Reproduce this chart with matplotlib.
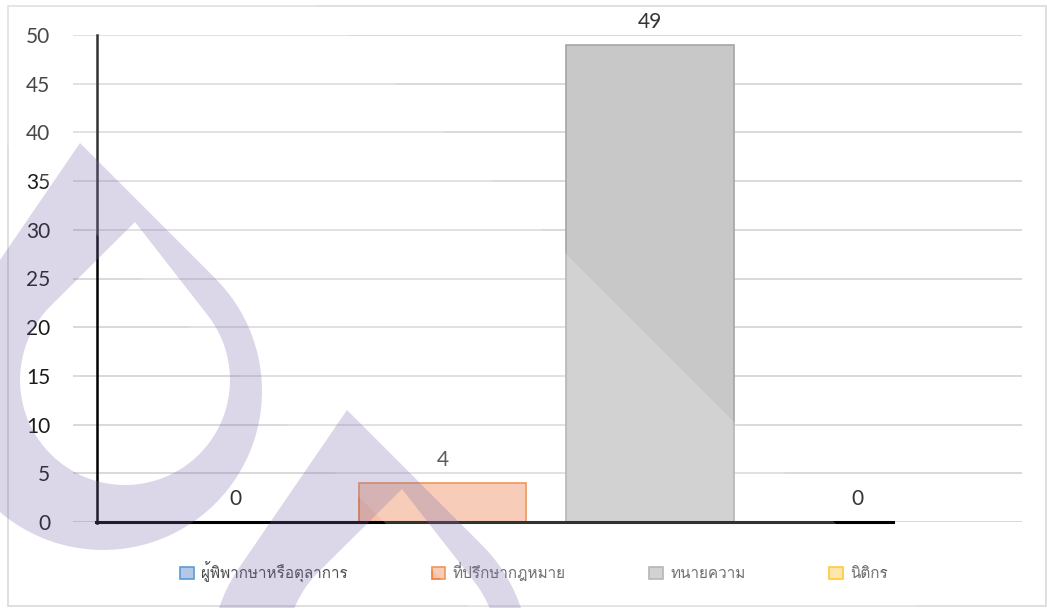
import numpy as np
import matplotlib
matplotlib.use('Agg')
import matplotlib.pyplot as plt
from matplotlib import font_manager
from matplotlib.ft2font import FT2Font
from matplotlib.font_manager import FontProperties
from matplotlib.patches import Patch, PathPatch, Rectangle, Polygon
from matplotlib.path import Path
from matplotlib.lines import Line2D

series = ['ผู้พิพากษาหรือตุลาการ', 'ที่ปรึกษากฎหมาย', 'ทนายความ', 'นิติกร']
values = [0, 4, 49, 0]
face_colors = ['#b4c7e7', '#f6c1a8', '#c8c8c8', '#ffe09a']
edge_colors = ['#5b9bd5', '#ed7d31', '#a5a5a5', '#ffc000']
y_ticks = [0, 5, 10, 15, 20, 25, 30, 35, 40, 45, 50]

W, H = 1047, 608


def thai_family():
    # first installed font that actually carries Thai glyphs
    for f in font_manager.fontManager.ttflist:
        try:
            if 0x0E01 in FT2Font(f.fname).get_charmap():
                return f.name
        except Exception:
            pass
    return 'DejaVu Sans'


THAI = thai_family()
NUM = 'Lato'


def px(x, y):
    return (x / W, 1 - y / H)


def drop(tip, center, r, n=80):
    tx, ty = tip
    cx, cy = center
    d = np.hypot(cx - tx, cy - ty)
    a = np.arcsin(r / d)
    phi = np.arctan2(cy - ty, cx - tx)
    th = np.linspace(np.pi / 2 + a, -(np.pi / 2 + a), n) + phi
    pts = [(tx, ty)] + list(zip(cx + r * np.cos(th), cy + r * np.sin(th)))
    return np.array(pts)


fig = plt.figure(figsize=(W / 100, H / 100), dpi=100)
ax = fig.add_axes([73 / W, 1 - 522 / H, (1022 - 73) / W, (522 - 35) / H])

x = np.arange(len(values))
lw = [1.2 if v else 0 for v in values]
ax.bar(x, values, width=0.807, color=face_colors, edgecolor=edge_colors,
       linewidth=lw, zorder=3)
for xi, v in zip(x, values):
    ax.annotate(str(v), (xi, v), xytext=(0, 16.5), textcoords='offset points',
                ha='center', va='center', fontsize=15, family=NUM,
                color='#333333', zorder=4)

ax.set_xlim(-0.787, 3.797)
ax.set_ylim(0, 50)
ax.set_yticks(y_ticks)
ax.set_xticks([])
ax.yaxis.grid(True, color='#d9d9d9', linewidth=1.4, zorder=0)
ax.set_axisbelow(True)
for s in ax.spines.values():
    s.set_visible(False)
ax.tick_params(axis='y', length=0, pad=16.5, labelsize=15, labelcolor='#1a1a1a')
for t in ax.get_yticklabels():
    t.set_family(NUM)

# hand drawn axis strokes
fig.add_artist(Line2D([97 / W, 97 / W], [1 - 35 / H, 1 - 523 / H],
                      color='black', linewidth=1.8, zorder=5))
fig.add_artist(Line2D([96 / W, 893 / W], [1 - 522 / H, 1 - 522 / H],
                      color='black', linewidth=2.2, zorder=5))

# outer frame
fig.add_artist(Rectangle(px(8, 606), (1046 - 8) / W, (606 - 6) / H,
                         fill=False, edgecolor='#d9d9d9', linewidth=1.2,
                         zorder=1))

handles = [Patch(facecolor=fc, edgecolor=ec, linewidth=1.2)
           for fc, ec in zip(face_colors, edge_colors)]
fig.legend(handles, series, loc='center', bbox_to_anchor=px(534, 572),
           ncol=4, frameon=False, prop=FontProperties(family=THAI, size=11),
           handlelength=0.9, handleheight=0.9, handletextpad=0.45,
           columnspacing=5.5, labelcolor='#4d4d4d')

# light band of the background logo (only shows over dark marks)
band = [(0, 0), (312, 0), (920, 608), (470, 608), (0, 138)]
fig.add_artist(Polygon([px(*p) for p in band], closed=True,
                       facecolor='white', alpha=0.2, edgecolor='none',
                       zorder=9))

# lavender drop logo, drawn twice
outer = drop((80, 143), (103, 391), 159)
inner = drop((135, 222), (125, 380), 105)[::-1]
for dx, dy in [(0, 0), (267, 267)]:
    verts = np.vstack([outer + (dx, dy), inner + (dx, dy)])
    verts = np.array([px(a, b) for a, b in verts])
    codes = ([Path.MOVETO] + [Path.LINETO] * (len(outer) - 1)
             + [Path.MOVETO] + [Path.LINETO] * (len(inner) - 1))
    fig.add_artist(PathPatch(Path(verts, codes), facecolor='#7a6aaa',
                             alpha=0.27, edgecolor='none', zorder=10))

fig.savefig('out.png', dpi=100)
